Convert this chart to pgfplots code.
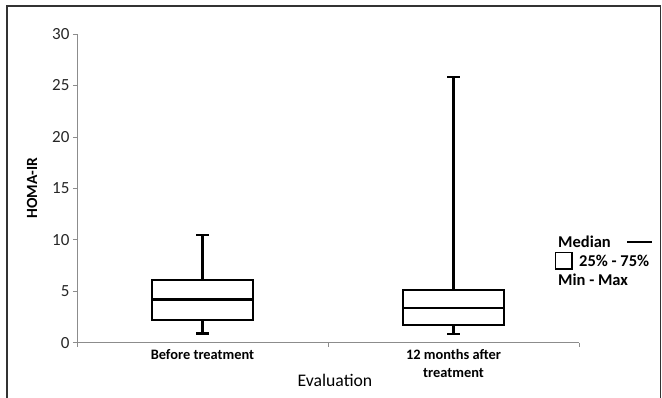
\documentclass[border=0pt]{standalone}
\usepackage{pgfplots}
\pgfplotsset{compat=1.18}
\usepackage{fontspec}
\setmainfont{Carlito}
\begin{document}
\begin{tikzpicture}[x=1pt,y=1pt]
\useasboundingbox (0,0) rectangle (662,397);
\draw[line width=1.6pt, black!80] (7,-5) -- (7,391) -- (660.5,391) -- (660.5,-5);
\begin{axis}[
  at={(77pt,54.3pt)}, anchor=origin,
  scale only axis, width=502pt, height=308.7pt,
  xmin=0, xmax=2, ymin=0, ymax=30,
  axis lines*=left,
  axis line style={black!45, line width=0.8pt},
  tick style={black!45, line width=0.8pt},
  tick align=outside,
  major tick length=4pt,
  ytick={0,5,...,30},
  xtick={0,1,2}, xticklabels={},
  extra x ticks={0.5,1.5},
  extra x tick labels={Before treatment,12 months after\\treatment},
  extra x tick style={major tick length=0pt, tick style={draw=none},
    xticklabel style={font=\fontsize{14.4}{18}\selectfont\bfseries, align=center, anchor=north, yshift=-3pt}},
  yticklabel style={font=\fontsize{17}{19}\selectfont, text=black!85},
  /pgf/number format/assume math mode=true,
  clip=false,
  bx/.style={draw=black, line width=2pt, mark=none, line join=miter},
  wl/.style={draw=black, line width=2.3pt, mark=none},
]
% Before treatment: min 0.9, Q1 2.2, median 4.2, Q3 6.09, max 10.47
\addplot[bx] coordinates {(0.3,2.2) (0.7,2.2) (0.7,6.09) (0.3,6.09)} -- cycle;
\addplot[wl] coordinates {(0.3,4.2) (0.7,4.2)};
\addplot[wl] coordinates {(0.5,6.09) (0.5,10.47)};
\addplot[wl] coordinates {(0.475,10.47) (0.525,10.47)};
\addplot[wl] coordinates {(0.5,2.2) (0.5,0.9)};
\addplot[wl] coordinates {(0.475,0.9) (0.525,0.9)};
% 12 months after treatment: min 0.82, Q1 1.75, median 3.34, Q3 5.12, max 25.85
\addplot[bx] coordinates {(1.3,1.75) (1.7,1.75) (1.7,5.12) (1.3,5.12)} -- cycle;
\addplot[wl] coordinates {(1.3,3.34) (1.7,3.34)};
\addplot[wl] coordinates {(1.5,5.12) (1.5,25.85)};
\addplot[wl] coordinates {(1.475,25.85) (1.525,25.85)};
\addplot[wl] coordinates {(1.5,1.75) (1.5,0.82)};
\addplot[wl] coordinates {(1.475,0.82) (1.525,0.82)};
\end{axis}
\node[font=\fontsize{15.5}{17}\selectfont\bfseries, rotate=90] at (32,209) {HOMA-IR};
\node[font=\fontsize{17.7}{20}\selectfont] at (335,17) {Evaluation};
% legend
\node[font=\fontsize{16.5}{18}\selectfont\bfseries, anchor=west, inner sep=0pt] at (558,155) {Median};
\draw[black, line width=1.6pt] (627,155) -- (652,155);
\draw[black, line width=1.4pt] (555.5,128) rectangle (572,144.5);
\node[font=\fontsize{16.5}{18}\selectfont\bfseries, anchor=west, inner sep=0pt] at (579,136) {25\% - 75\%};
\node[font=\fontsize{16.5}{18}\selectfont\bfseries, anchor=west, inner sep=0pt] at (558,117) {Min - Max};
\end{tikzpicture}
\end{document}
